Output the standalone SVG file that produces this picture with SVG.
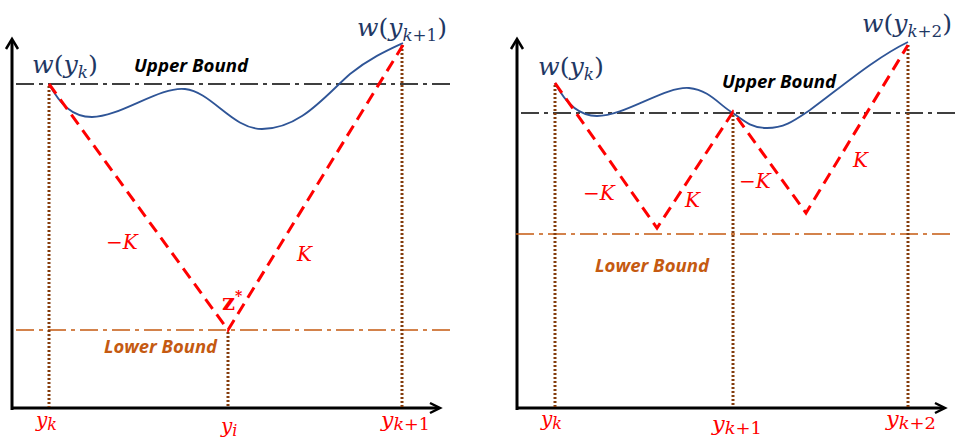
<svg xmlns="http://www.w3.org/2000/svg" width="963" height="446" viewBox="0 0 963 446">
<style>
.axis{stroke:#000;stroke-width:3;fill:none}
.arrow{stroke:#000;stroke-width:2.5;fill:none}
.ub{stroke:#000;stroke-width:1.6;stroke-dasharray:18 5 4 5;fill:none}
.lb{stroke:#C55A11;stroke-width:1.6;stroke-dasharray:18 5 4 5;fill:none}
.dot{stroke:#843C0C;stroke-width:3;stroke-dasharray:2 2;fill:none}
.red{stroke:#FF0000;stroke-width:3;stroke-dasharray:12 7;fill:none}
.curve{stroke:#2F5597;stroke-width:1.8;fill:none}
.math{font-family:"DejaVu Serif","Liberation Serif",serif;font-style:italic}
.wl{fill:#1F3864;font-size:24px}
.rl{fill:#FF0000;font-size:20px}
.bound{font-family:"Open Sans","Liberation Sans",Arial,sans-serif;font-weight:bold;font-style:italic;font-size:17px}
.up{font-style:normal}
.zs{font-family:"DejaVu Serif","Liberation Serif",serif;font-style:normal;font-weight:bold;fill:#FF0000;font-size:23px}
</style>

<g id="left-axes">
<path class="axis" d="M12,410 V40 M12,408 H439"/>
<path class="arrow" d="M6,49 L12,39 L18,49 M430,403 L440,408 L430,413"/>
</g>
<g id="right-axes">
<path class="axis" d="M517,410 V40 M517,408 H944"/>
<path class="arrow" d="M511,49 L517,39 L523,49 M935,403 L945,408 L935,413"/>
</g>

<g id="connectors">
<line class="ub" x1="16" y1="84" x2="450" y2="84"/>
<line class="lb" x1="16" y1="330" x2="450" y2="330"/>
<line class="dot" x1="49" y1="86" x2="49" y2="407"/>
<line class="dot" x1="228" y1="332" x2="228" y2="407"/>
<line class="dot" x1="402" y1="45" x2="402" y2="407"/>
<path class="curve" d="M49,84 C60,104 72,117 92,117 C120,117 160,86 185,89 C212,92 232,129 262,129 C300,129 325,96 350,74 C370,58 388,50 403,43"/>
<path class="red" d="M49,84 L228,330 L403,45"/>

<line class="ub" x1="521" y1="113" x2="955" y2="113"/>
<line class="lb" x1="516" y1="234" x2="950" y2="234"/>
<line class="dot" x1="555" y1="85" x2="555" y2="407"/>
<line class="dot" x1="733" y1="115" x2="733" y2="407"/>
<line class="dot" x1="908" y1="45" x2="908" y2="407"/>
<path class="curve" d="M555,83 C565,102 578,116 597,116 C625,116 665,86 689,88 C710,90 720,106 733,113 C745,122 752,128 767,128 C785,128 795,120 810,110 C840,88 875,58 908,42"/>
<path class="red" d="M555,83 L657,228 L733,112 L806,213 L908,45"/>
</g>

<g id="labels-left">
<text class="math wl" x="32" y="73" textLength="66" lengthAdjust="spacingAndGlyphs"><tspan>w</tspan><tspan class="up">(</tspan><tspan>y</tspan><tspan font-size="16" dy="5">k</tspan><tspan class="up" dy="-5">)</tspan></text>
<text class="math wl" x="357" y="36" textLength="90" lengthAdjust="spacingAndGlyphs"><tspan>w</tspan><tspan class="up">(</tspan><tspan>y</tspan><tspan font-size="16" dy="5">k</tspan><tspan font-size="16" class="up">+1</tspan><tspan class="up" dy="-5">)</tspan></text>
<text class="bound" x="134" y="72" textLength="114" lengthAdjust="spacingAndGlyphs">Upper Bound</text>
<text class="bound" x="104" y="353" fill="#C55A11" textLength="113" lengthAdjust="spacingAndGlyphs">Lower Bound</text>
<text class="math rl" x="106" y="249"><tspan class="up">−</tspan>K</text>
<text class="math rl" x="297" y="261">K</text>
<text class="zs" x="222" y="310">z<tspan font-size="14" dy="-9">*</tspan></text>
<text class="math rl" x="36" y="427" font-size="23">y<tspan font-size="16" dy="3">k</tspan></text>
<text class="math rl" x="221" y="433" font-size="23">y<tspan font-size="16" dy="3">i</tspan></text>
<text class="math rl" x="381" y="427" font-size="23" textLength="49" lengthAdjust="spacingAndGlyphs">y<tspan font-size="16" dy="3">k</tspan><tspan font-size="16" class="up">+1</tspan></text>
</g>

<g id="labels-right">
<text class="math wl" x="538" y="75" textLength="66" lengthAdjust="spacingAndGlyphs"><tspan>w</tspan><tspan class="up">(</tspan><tspan>y</tspan><tspan font-size="16" dy="5">k</tspan><tspan class="up" dy="-5">)</tspan></text>
<text class="math wl" x="862" y="32" textLength="90" lengthAdjust="spacingAndGlyphs"><tspan>w</tspan><tspan class="up">(</tspan><tspan>y</tspan><tspan font-size="16" dy="5">k</tspan><tspan font-size="16" class="up">+2</tspan><tspan class="up" dy="-5">)</tspan></text>
<text class="bound" x="722" y="88" textLength="114" lengthAdjust="spacingAndGlyphs">Upper Bound</text>
<text class="bound" x="595" y="272" fill="#C55A11" textLength="114" lengthAdjust="spacingAndGlyphs">Lower Bound</text>
<text class="math rl" x="583" y="200"><tspan class="up">−</tspan>K</text>
<text class="math rl" x="685" y="207">K</text>
<text class="math rl" x="739" y="188"><tspan class="up">−</tspan>K</text>
<text class="math rl" x="853" y="167">K</text>
<text class="math rl" x="541" y="426" font-size="23">y<tspan font-size="16" dy="3">k</tspan></text>
<text class="math rl" x="712" y="431" font-size="23" textLength="50" lengthAdjust="spacingAndGlyphs">y<tspan font-size="16" dy="3">k</tspan><tspan font-size="16" class="up">+1</tspan></text>
<text class="math rl" x="886" y="426" font-size="23" textLength="50" lengthAdjust="spacingAndGlyphs">y<tspan font-size="16" dy="3">k</tspan><tspan font-size="16" class="up">+2</tspan></text>
</g>
</svg>
